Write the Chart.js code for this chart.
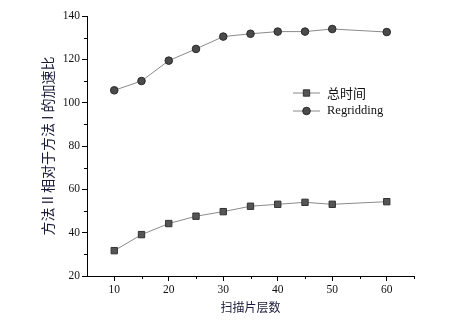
<!DOCTYPE html>
<html>
<head>
<meta charset="utf-8">
<script src="https://cdn.jsdelivr.net/npm/chart.js"></script>
<style>
  html, body { margin: 0; padding: 0; background: #fff; }
  #wrap { width: 451px; height: 322px; }
</style>
</head>
<body>
<div id="wrap"><canvas id="chart" width="451" height="322"></canvas></div>
<script>
// ====== DATA ======
const layers = [10, 15, 20, 25, 30, 35, 40, 45, 50, 60];
const totalTime = [31.7, 39.1, 44.2, 47.6, 49.7, 52.2, 53.1, 54.0, 53.1, 54.3];
const regridding = [105.7, 110.0, 119.4, 124.8, 130.5, 131.8, 132.8, 132.8, 134.0, 132.6];
const seriesNames = ["总时间", "Regridding"];
const xTitle = "扫描片层数";
const yTitle = "方法 II 相对于方法 I 的加速比";

const serif = "'Liberation Serif', 'Times New Roman', serif";
const cjk = "'Noto Sans CJK SC', 'Noto Sans', sans-serif";

function toPoints(values) {
  return layers.map((x, i) => ({ x, y: values[i] }));
}

// ticks between labelled ones are drawn shorter by the plugin below
const isMajorX = v => v % 10 === 0;
const isMajorY = v => v % 20 === 0;

// ====== MINOR TICKS ======
const minorTicks = {
  id: "minorTicks",
  afterDraw(chart) {
    const ctx = chart.ctx;
    const xs = chart.scales.x, ys = chart.scales.y;
    ctx.save();
    ctx.strokeStyle = "#000";
    ctx.lineWidth = 1;
    ctx.beginPath();
    xs.ticks.forEach(t => {
      if (isMajorX(t.value) || t.value === xs.min) return;
      const px = Math.round(xs.getPixelForValue(t.value)) + 0.5;
      ctx.moveTo(px, xs.top);
      ctx.lineTo(px, xs.top + 3);
    });
    ys.ticks.forEach(t => {
      if (isMajorY(t.value)) return;
      const py = Math.round(ys.getPixelForValue(t.value)) + 0.5;
      ctx.moveTo(ys.right, py);
      ctx.lineTo(ys.right - 3, py);
    });
    ctx.stroke();
    ctx.restore();
  }
};

// ====== LEGEND (line + marker, like the original) ======
const lineLegend = {
  id: "lineLegend",
  afterDraw(chart) {
    const ctx = chart.ctx;
    const x0 = 293, x1 = 320, textX = 327;
    const rows = [93, 111];
    chart.data.datasets.forEach((ds, i) => {
      const y = rows[i];
      ctx.save();
      ctx.strokeStyle = ds.borderColor;
      ctx.lineWidth = 1;
      ctx.beginPath();
      ctx.moveTo(x0, y);
      ctx.lineTo(x1, y);
      ctx.stroke();
      ctx.fillStyle = ds.pointBackgroundColor;
      ctx.strokeStyle = ds.pointBorderColor;
      Chart.helpers.drawPoint(ctx, {
        pointStyle: ds.pointStyle, radius: ds.pointRadius, borderWidth: 1, rotation: 0
      }, (x0 + x1) / 2, y);
      ctx.fillStyle = "#111";
      ctx.textBaseline = "middle";
      ctx.font = i === 0 ? "13px " + cjk : "12.5px " + serif;
      ctx.fillText(seriesNames[i], textX, y);
      ctx.restore();
    });
  }
};

// ====== CHART ======
new Chart(document.getElementById("chart"), {
  type: "line",
  data: {
    datasets: [
      {
        label: seriesNames[0],
        data: toPoints(totalTime),
        borderColor: "#8a8a8a",
        borderWidth: 1,
        pointStyle: "rect",
        pointRadius: 4.5,
        pointBackgroundColor: "#555",
        pointBorderColor: "#333",
        pointBorderWidth: 1
      },
      {
        label: seriesNames[1],
        data: toPoints(regridding),
        borderColor: "#8a8a8a",
        borderWidth: 1,
        pointStyle: "circle",
        pointRadius: 3.8,
        pointBackgroundColor: "#4a4a4a",
        pointBorderColor: "#2a2a2a",
        pointBorderWidth: 1
      }
    ]
  },
  options: {
    responsive: false,
    animation: false,
    layout: { padding: { top: 16, right: 37, left: 0, bottom: 0 } },
    plugins: { legend: { display: false }, tooltip: { enabled: false } },
    scales: {
      x: {
        type: "linear",
        min: 5,
        max: 65,
        afterFit: s => { s.height = 46; },
        border: { display: true, color: "#000", width: 1 },
        grid: {
          drawOnChartArea: false, drawTicks: true, tickLength: 5,
          tickColor: c => (c.tick && isMajorX(c.tick.value) ? "#000" : "rgba(0,0,0,0)")
        },
        ticks: {
          stepSize: 5,
          padding: 2,
          color: "#111",
          font: { family: serif, size: 11.5 },
          maxRotation: 0,
          autoSkip: false,
          callback: v => (isMajorX(v) ? v : "")
        },
        title: {
          display: true,
          text: xTitle,
          color: "#1a1a3a",
          font: { family: cjk, size: 12 },
          padding: { top: 0, bottom: 7.5 }
        }
      },
      y: {
        min: 20,
        max: 140,
        afterFit: s => { s.width = 87; },
        border: { display: true, color: "#000", width: 1 },
        grid: {
          drawOnChartArea: false, drawTicks: true, tickLength: 5,
          tickColor: c => (c.tick && isMajorY(c.tick.value) ? "#000" : "rgba(0,0,0,0)")
        },
        ticks: {
          stepSize: 10,
          padding: 2,
          color: "#111",
          font: { family: serif, size: 11.5 },
          autoSkip: false,
          callback: v => (isMajorY(v) ? v : "")
        },
        title: {
          display: true,
          text: yTitle,
          color: "#1a1a3a",
          font: { family: cjk, size: 14 },
          padding: { top: 39.5, bottom: 0 }
        }
      }
    }
  },
  plugins: [minorTicks, lineLegend]
});
</script>
</body>
</html>
